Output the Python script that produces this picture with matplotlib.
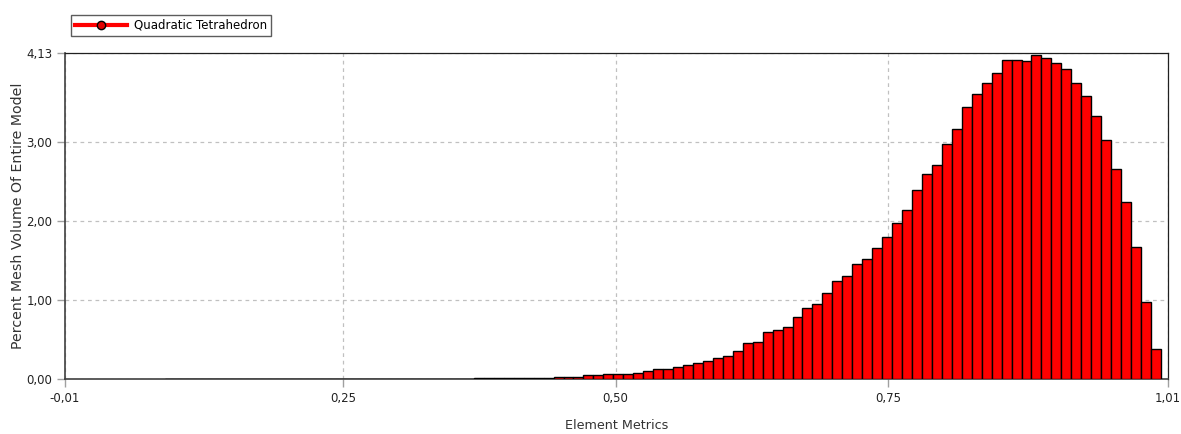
import numpy as np
import matplotlib
matplotlib.use("Agg")
import matplotlib.pyplot as plt
from matplotlib.lines import Line2D

# element metric range covered by the histogram (100 bins)
metric_min = 0.087
metric_max = 1.0

# percent mesh volume per bin
pct_volume = (
    [0.012] * 31 +
    [0.022] * 8 +
    [0.03, 0.034, 0.034, 0.051, 0.051, 0.068, 0.068, 0.068, 0.085, 0.107,
     0.132, 0.132, 0.162, 0.188, 0.205, 0.235, 0.273, 0.303, 0.363, 0.466,
     0.479, 0.598, 0.632, 0.667, 0.79, 0.905, 0.95, 1.09, 1.25, 1.305,
     1.46, 1.53, 1.66, 1.80, 1.98, 2.14, 2.395, 2.597, 2.711, 2.973,
     3.171, 3.441, 3.614, 3.744, 3.871, 4.04, 4.04, 4.027, 4.11, 4.069,
     3.997, 3.926, 3.744, 3.58, 3.327, 3.032, 2.657, 2.243, 1.67, 0.982,
     0.384]
)

# axis range; the end labels are the rounded range values
x_range = (-0.005, 1.0065)
x_ticks = [-0.005, 0.25, 0.50, 0.75, 1.0065]
x_tick_labels = ["-0,01", "0,25", "0,50", "0,75", "1,01"]
y_ticks = [0.0, 1.0, 2.0, 3.0, 4.13]
series_name = "Quadratic Tetrahedron"

edges = np.linspace(metric_min, metric_max, len(pct_volume) + 1)
widths = np.diff(edges)

fig = plt.figure(figsize=(11.81, 4.34), dpi=100)
ax = fig.add_axes([0.055, 0.1256, 0.934, 0.7524])

ax.bar(edges[:-1], pct_volume, width=widths, align="edge",
       color="#ff0000", edgecolor="black", linewidth=1.0, zorder=3)

ax.set_xlim(*x_range)
ax.set_ylim(0, 4.13)
ax.set_xticks(x_ticks)
ax.set_xticklabels(x_tick_labels)
ax.set_yticks(y_ticks)
ax.set_yticklabels([f"{v:.2f}".replace(".", ",") for v in y_ticks])

ax.grid(True, linestyle=(0, (3, 3)), color="#c0c0c0", linewidth=0.9, zorder=0)
ax.tick_params(axis="both", direction="out", length=6, width=1,
               color="#a0a0a0", labelsize=8.5, labelcolor="#222222", pad=3)

for side in ["left", "bottom"]:
    ax.spines[side].set_color("#404040")
    ax.spines[side].set_linewidth(1.2)
for side in ["top", "right"]:
    ax.spines[side].set_color("#202020")
    ax.spines[side].set_linewidth(0.9)

ax.set_xlabel("Element Metrics", fontsize=9.2, color="#333333", labelpad=10)
ax.set_ylabel("Percent Mesh Volume Of Entire Model", fontsize=10.2,
              color="#333333", labelpad=1)

handle = Line2D([], [], color="#ff0000", linewidth=3, marker="o",
                markersize=6, markerfacecolor="#e00000",
                markeredgecolor="black", markeredgewidth=1)
leg = fig.legend([handle], [series_name], loc="upper left",
                 bbox_to_anchor=(0.055, 0.98), fontsize=8.5, frameon=True,
                 fancybox=False, edgecolor="#333333", handlelength=4.4,
                 borderpad=0.35, handletextpad=0.6)
leg.get_frame().set_linewidth(1.0)

fig.savefig("out.png", dpi=100)
